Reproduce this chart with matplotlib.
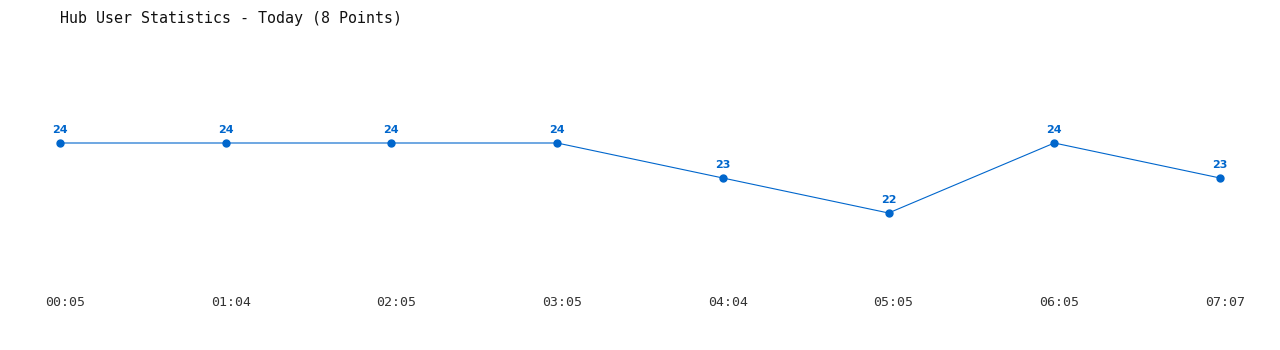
import matplotlib
matplotlib.use("Agg")
import matplotlib.pyplot as plt
import matplotlib.transforms as mtransforms

times = ["00:05", "01:04", "02:05", "03:05", "04:04", "05:05", "06:05", "07:07"]
users = [24, 24, 24, 24, 23, 22, 24, 23]

blue = "#0066cc"
W, H = 1280, 350

fig = plt.figure(figsize=(W / 100, H / 100), dpi=100)
# axes covers pixel rows 0..290 from the top, full width
ax = fig.add_axes([0, 60 / H, 1, 290 / H])
x = list(range(len(users)))
ax.plot(x, users, color=blue, lw=0.8, marker="o", ms=5, mec=blue, mfc=blue)

step = (1220 - 60) / 7
ax.set_xlim(-60 / step, (W - 60) / step)
ax.set_ylim(24 - (290 - 143) / 35, 24 + 143 / 35)

for xi, v in zip(x, users):
    ax.annotate(str(v), (xi, v), xytext=(0, 5.5), textcoords="offset points",
                ha="center", va="bottom", color=blue, fontsize=8,
                fontweight="bold", family="DejaVu Sans")

ax.set_xticks(x)
ax.set_xticklabels(times, family="DejaVu Sans Mono", fontsize=9.5, color="#333333")
ax.tick_params(axis="x", length=0, pad=4.5)
# labels sit a few pixels right of the points in the original
shift = mtransforms.ScaledTranslation(5 / 100, 0, fig.dpi_scale_trans)
for lab in ax.get_xticklabels():
    lab.set_transform(lab.get_transform() + shift)
ax.set_yticks([])
for s in ax.spines.values():
    s.set_visible(False)

fig.text(60 / W, 1 - 18 / H, "Hub User Statistics - Today (8 Points)",
         family="DejaVu Sans Mono", fontsize=10.8, va="center", ha="left",
         color="#111111")

fig.savefig("out.png", dpi=100, facecolor="white")
